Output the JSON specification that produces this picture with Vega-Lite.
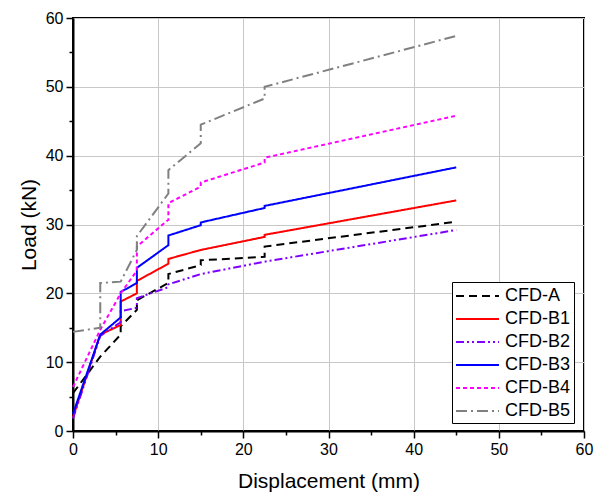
{
  "$schema": "https://vega.github.io/schema/vega-lite/v6.json",
  "width": 511,
  "height": 413,
  "autosize": {"type": "none"},
  "padding": {"left": 73, "top": 18, "right": 17, "bottom": 64},
  "background": "white",
  "config": {
    "font": "Liberation Sans",
    "view": {"stroke": "black", "strokeWidth": 2}
  },
  "data": {"values": [
    {"s": "CFD-A", "i": 0, "x": 0, "y": 5.5},
    {"s": "CFD-A", "i": 1, "x": 3.2, "y": 10.8},
    {"s": "CFD-A", "i": 2, "x": 5.6, "y": 14.0},
    {"s": "CFD-A", "i": 3, "x": 5.6, "y": 15.2},
    {"s": "CFD-A", "i": 4, "x": 7.5, "y": 17.6},
    {"s": "CFD-A", "i": 5, "x": 7.5, "y": 19.0},
    {"s": "CFD-A", "i": 6, "x": 11.2, "y": 21.5},
    {"s": "CFD-A", "i": 7, "x": 11.2, "y": 22.8},
    {"s": "CFD-A", "i": 8, "x": 15, "y": 24.1},
    {"s": "CFD-A", "i": 9, "x": 15, "y": 24.8},
    {"s": "CFD-A", "i": 10, "x": 22.5, "y": 25.3},
    {"s": "CFD-A", "i": 11, "x": 22.5, "y": 26.8},
    {"s": "CFD-A", "i": 12, "x": 45, "y": 30.4},

    {"s": "CFD-B1", "i": 0, "x": 0, "y": 2.0},
    {"s": "CFD-B1", "i": 1, "x": 3.2, "y": 14.0},
    {"s": "CFD-B1", "i": 2, "x": 5.6, "y": 15.4},
    {"s": "CFD-B1", "i": 3, "x": 5.6, "y": 18.8},
    {"s": "CFD-B1", "i": 4, "x": 7.5, "y": 20.0},
    {"s": "CFD-B1", "i": 5, "x": 7.5, "y": 21.8},
    {"s": "CFD-B1", "i": 6, "x": 11.2, "y": 24.3},
    {"s": "CFD-B1", "i": 7, "x": 11.2, "y": 25.0},
    {"s": "CFD-B1", "i": 8, "x": 15, "y": 26.3},
    {"s": "CFD-B1", "i": 9, "x": 22.5, "y": 28.2},
    {"s": "CFD-B1", "i": 10, "x": 22.5, "y": 28.5},
    {"s": "CFD-B1", "i": 11, "x": 45, "y": 33.5},

    {"s": "CFD-B2", "i": 0, "x": 0, "y": 1.8},
    {"s": "CFD-B2", "i": 1, "x": 3.2, "y": 13.8},
    {"s": "CFD-B2", "i": 2, "x": 5.6, "y": 15.8},
    {"s": "CFD-B2", "i": 3, "x": 5.6, "y": 17.4},
    {"s": "CFD-B2", "i": 4, "x": 7.5, "y": 17.9},
    {"s": "CFD-B2", "i": 5, "x": 7.5, "y": 19.3},
    {"s": "CFD-B2", "i": 6, "x": 11.2, "y": 20.9},
    {"s": "CFD-B2", "i": 7, "x": 11.2, "y": 21.3},
    {"s": "CFD-B2", "i": 8, "x": 15, "y": 22.8},
    {"s": "CFD-B2", "i": 9, "x": 22.5, "y": 24.6},
    {"s": "CFD-B2", "i": 10, "x": 45, "y": 29.2},

    {"s": "CFD-B3", "i": 0, "x": 0, "y": 2.5},
    {"s": "CFD-B3", "i": 1, "x": 3.2, "y": 14.0},
    {"s": "CFD-B3", "i": 2, "x": 5.6, "y": 16.5},
    {"s": "CFD-B3", "i": 3, "x": 5.6, "y": 20.2},
    {"s": "CFD-B3", "i": 4, "x": 7.5, "y": 21.5},
    {"s": "CFD-B3", "i": 5, "x": 7.5, "y": 23.7},
    {"s": "CFD-B3", "i": 6, "x": 11.2, "y": 27.0},
    {"s": "CFD-B3", "i": 7, "x": 11.2, "y": 28.4},
    {"s": "CFD-B3", "i": 8, "x": 15, "y": 29.9},
    {"s": "CFD-B3", "i": 9, "x": 15, "y": 30.3},
    {"s": "CFD-B3", "i": 10, "x": 22.5, "y": 32.4},
    {"s": "CFD-B3", "i": 11, "x": 22.5, "y": 32.7},
    {"s": "CFD-B3", "i": 12, "x": 45, "y": 38.3},

    {"s": "CFD-B4", "i": 0, "x": 0, "y": 6.4},
    {"s": "CFD-B4", "i": 1, "x": 3.2, "y": 14.7},
    {"s": "CFD-B4", "i": 2, "x": 5.6, "y": 20.0},
    {"s": "CFD-B4", "i": 3, "x": 7.5, "y": 23.3},
    {"s": "CFD-B4", "i": 4, "x": 7.5, "y": 26.8},
    {"s": "CFD-B4", "i": 5, "x": 11.2, "y": 30.7},
    {"s": "CFD-B4", "i": 6, "x": 11.2, "y": 33.1},
    {"s": "CFD-B4", "i": 7, "x": 15, "y": 35.5},
    {"s": "CFD-B4", "i": 8, "x": 15, "y": 36.1},
    {"s": "CFD-B4", "i": 9, "x": 22.5, "y": 39.0},
    {"s": "CFD-B4", "i": 10, "x": 22.5, "y": 39.7},
    {"s": "CFD-B4", "i": 11, "x": 45, "y": 45.8},

    {"s": "CFD-B5", "i": 0, "x": 0, "y": 14.4},
    {"s": "CFD-B5", "i": 1, "x": 3.2, "y": 15.0},
    {"s": "CFD-B5", "i": 2, "x": 3.2, "y": 21.5},
    {"s": "CFD-B5", "i": 3, "x": 5.6, "y": 21.7},
    {"s": "CFD-B5", "i": 4, "x": 7.5, "y": 26.3},
    {"s": "CFD-B5", "i": 5, "x": 7.5, "y": 28.3},
    {"s": "CFD-B5", "i": 6, "x": 11.2, "y": 34.5},
    {"s": "CFD-B5", "i": 7, "x": 11.2, "y": 37.9},
    {"s": "CFD-B5", "i": 8, "x": 15, "y": 41.8},
    {"s": "CFD-B5", "i": 9, "x": 15, "y": 44.5},
    {"s": "CFD-B5", "i": 10, "x": 22.5, "y": 48.3},
    {"s": "CFD-B5", "i": 11, "x": 22.5, "y": 50.0},
    {"s": "CFD-B5", "i": 12, "x": 45, "y": 57.4}
  ]},
  "layer": [
    {
      "mark": {"type": "line", "strokeWidth": 2},
      "encoding": {
        "x": {
          "field": "x", "type": "quantitative",
          "scale": {"domain": [0, 60], "nice": false, "zero": false},
          "axis": {
            "values": [0, 10, 20, 30, 40, 50, 60],
            "title": "Displacement (mm)",
            "orient": "bottom",
            "tickSize": 7, "tickWidth": 1.5, "tickColor": "black",
            "domainColor": "black", "domainWidth": 2,
            "labelFontSize": 16, "labelColor": "black", "labelPadding": 3, "labelFlush": false,
            "titleFontSize": 21, "titleFontWeight": "normal", "titleColor": "black", "titlePadding": 13,
            "grid": true, "gridColor": "#c8c8c8", "gridWidth": 1
          }
        },
        "y": {
          "field": "y", "type": "quantitative",
          "scale": {"domain": [0, 60], "nice": false, "zero": false},
          "axis": {
            "values": [0, 10, 20, 30, 40, 50, 60],
            "title": "Load (kN)",
            "orient": "left",
            "tickSize": 7, "tickWidth": 1.5, "tickColor": "black",
            "domainColor": "black", "domainWidth": 2,
            "labelFontSize": 16, "labelColor": "black", "labelPadding": 3, "labelFlush": false,
            "titleFontSize": 21, "titleFontWeight": "normal", "titleColor": "black", "titlePadding": 6,
            "grid": true, "gridColor": "#c8c8c8", "gridWidth": 1
          }
        },
        "order": {"field": "i", "type": "quantitative"},
        "color": {
          "field": "s", "type": "nominal",
          "scale": {
            "domain": ["CFD-A", "CFD-B1", "CFD-B2", "CFD-B3", "CFD-B4", "CFD-B5"],
            "range": ["#000000", "#ff0000", "#8000ff", "#0000ff", "#ff00ff", "#808080"]
          },
          "legend": {
            "title": null,
            "orient": "none",
            "legendX": 379,
            "legendY": 264,
            "symbolType": "M-1,0L3.3,0",
            "symbolSize": 400,
            "symbolStrokeWidth": 2,
            "labelFontSize": 18,
            "labelColor": "black",
            "labelOffset": 28,
            "rowPadding": 3,
            "padding": 3,
            "strokeColor": "black",
            "fillColor": "white"
          }
        },
        "strokeDash": {
          "field": "s", "type": "nominal",
          "scale": {
            "domain": ["CFD-A", "CFD-B1", "CFD-B2", "CFD-B3", "CFD-B4", "CFD-B5"],
            "range": [[8, 5], [1, 0], [8, 3, 2, 3, 2, 3], [1, 0], [4, 3], [11, 4, 2, 4]]
          },
          "legend": {
            "title": null,
            "orient": "none",
            "legendX": 379,
            "legendY": 264,
            "symbolType": "M-1,0L3.3,0",
            "symbolSize": 400,
            "symbolStrokeWidth": 2,
            "labelFontSize": 18,
            "labelColor": "black",
            "labelOffset": 28,
            "rowPadding": 3,
            "padding": 3,
            "strokeColor": "black",
            "fillColor": "white"
          }
        }
      }
    },
    {
      "mark": {"type": "point", "opacity": 0},
      "encoding": {
        "x": {
          "field": "x", "type": "quantitative",
          "scale": {"domain": [0, 60], "nice": false, "zero": false},
          "axis": {
            "values": [5, 15, 25, 35, 45, 55],
            "orient": "bottom", "title": null,
            "labels": false, "domain": false, "grid": false,
            "tickSize": 4, "tickWidth": 1.5, "tickColor": "black"
          }
        },
        "y": {
          "field": "y", "type": "quantitative",
          "scale": {"domain": [0, 60], "nice": false, "zero": false},
          "axis": {
            "values": [5, 15, 25, 35, 45, 55],
            "orient": "left", "title": null,
            "labels": false, "domain": false, "grid": false,
            "tickSize": 4, "tickWidth": 1.5, "tickColor": "black"
          }
        }
      }
    }
  ],
  "resolve": {"axis": {"x": "independent", "y": "independent"}}
}
